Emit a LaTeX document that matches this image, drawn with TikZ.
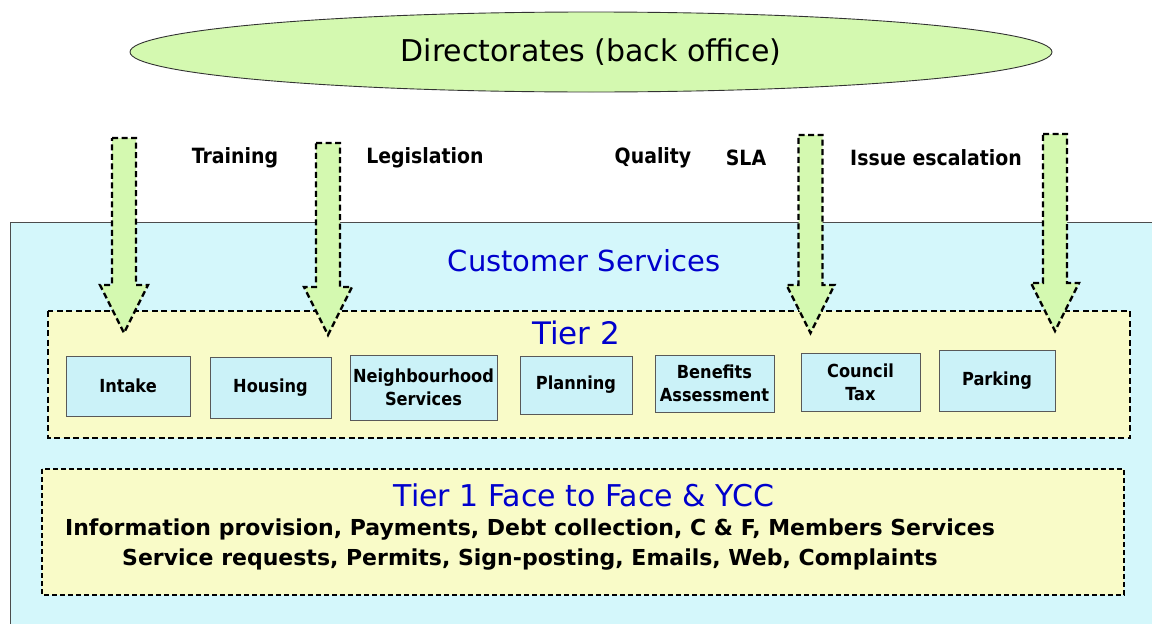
\documentclass[tikz,border=0pt]{standalone}
\usepackage{fontspec}
\setmainfont{DejaVu Sans Condensed}
\newfontfamily\widefont{DejaVu Sans}
\usetikzlibrary{shapes.geometric}
\definecolor{dirgreen}{RGB}{212,249,176}
\definecolor{csblue}{RGB}{212,247,251}
\definecolor{boxblue}{RGB}{203,242,248}
\definecolor{tieryellow}{RGB}{249,251,200}
\definecolor{titleblue}{RGB}{0,0,204}
\tikzset{
  bigtitle/.style={font=\widefont\fontsize{30}{34}\selectfont, text=titleblue},
  flowlabel/.style={font=\bfseries\fontsize{21}{24}\selectfont},
  tierline/.style={font=\widefont\bfseries\fontsize{22}{26}\selectfont},
  unitbox/.style={draw=black!65, line width=0.9pt, fill=boxblue, align=center, inner sep=1pt,
    font=\bfseries\fontsize{18}{23}\selectfont},
  tierbox/.style={draw=black, line width=2.3pt, dash pattern=on 6pt off 3.5pt, fill=tieryellow},
  feedarrow/.style={draw=black, line width=2.3pt, dash pattern=on 6pt off 3.5pt, fill=dirgreen, line join=miter}
}
\begin{document}
\begin{tikzpicture}[x=1pt,y=-1pt]
\useasboundingbox (0,0) rectangle (1152,624);
% customer services area
\fill[csblue] (10,222) rectangle (1160,630);
\draw[black!70, line width=0.9pt] (10,630) -- (10,222) -- (1160,222);
% directorates
\node[ellipse, draw=black!80, line width=0.9pt, fill=dirgreen, minimum width=922pt, minimum height=80pt, inner sep=0pt,
  font=\widefont\fontsize{30}{34}\selectfont] (dir) at (591,52) {\raisebox{-2pt}{Directorates (back office)}};
% flow labels
\node[flowlabel] (training) at (235,158) {Training};
\node[flowlabel] (legis) at (425,158) {Legislation};
\node[flowlabel] (quality) at (653,158) {Quality};
\node[flowlabel] (sla) at (746,158) {SLA};
\node[flowlabel] (issue) at (936,158) {Issue escalation};
\node[bigtitle, font=\widefont\fontsize{29}{34}\selectfont] (cs) at (584,261) {Customer Services};
% tier 2
\path[tierbox] (48,311) rectangle (1130,438);
\node[bigtitle, font=\widefont\fontsize{31}{34}\selectfont] (t2) at (576,333) {Tier 2};
\node[unitbox, minimum width=124pt, minimum height=60pt] (intake) at (128,386) {Intake};
\node[unitbox, minimum width=121pt, minimum height=61pt] (housing) at (270.5,387.5) {Housing};
\node[unitbox, minimum width=147pt, minimum height=65pt] (neigh) at (423.5,387.5) {Neighbourhood\\Services};
\node[unitbox, minimum width=112pt, minimum height=58pt] (plan) at (576,385) {Planning};
\node[unitbox, minimum width=119pt, minimum height=57pt] (benef) at (714.5,383.5) {Benefits\\Assessment};
\node[unitbox, minimum width=119pt, minimum height=58pt] (ctax) at (860.5,382) {Council\\Tax};
\node[unitbox, minimum width=116pt, minimum height=61pt] (park) at (997,380.5) {Parking};
% arrows
\foreach \x/\top/\tip in {124/138/333, 328/143/335, 810.5/135/333, 1055/134/331}{
  \path[feedarrow] (\x-12,\top) -- (\x+12,\top) -- (\x+12,\tip-48) -- (\x+24,\tip-48) -- (\x,\tip)
     -- (\x-24,\tip-48) -- (\x-12,\tip-48) -- cycle;
}
% tier 1
\path[tierbox, line width=1.6pt, dash pattern=on 5pt off 3pt] (42,469) rectangle (1124,595);
\node[bigtitle] (t1) at (584,495) {Tier 1 Face to Face \& YCC};
\node[tierline] (line1) at (530,530) {Information provision, Payments, Debt collection, C \& F, Members Services};
\node[tierline] (line2) at (530,560) {Service requests, Permits, Sign-posting, Emails, Web, Complaints};
\end{tikzpicture}
\end{document}
